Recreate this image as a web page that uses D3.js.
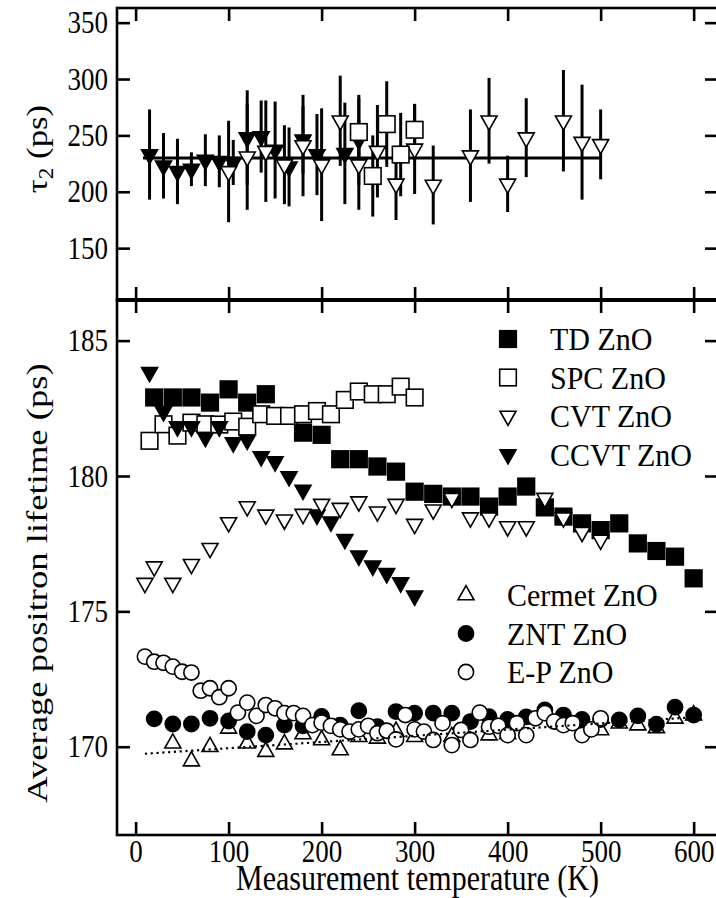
<!DOCTYPE html>
<html>
<head>
<meta charset="utf-8">
<script src="https://cdn.jsdelivr.net/npm/d3@7"></script>
<style>
  body { margin: 0; background: #fff; }
  svg { display: block; }
  svg text { font-family: "Liberation Serif", "Times New Roman", Times, serif; }
</style>
</head>
<body>
<div id="chart"></div>
<script>
// ---- data ----
// upper panel: tau2 (ps) with error bars
const ccvtTauT   = [15, 30, 45, 60, 75, 90, 105, 120, 135, 150, 165, 180, 195, 225, 240]
const ccvtTau    = [233, 223, 218, 220, 228, 227, 226, 248, 249, 237, 222, 246, 233, 234, 246]
const ccvtTauErr = [40, 29, 29, 15, 23, 23, 20, 42, 32, 43, 35, 30, 36, 45, 40]

const cvtTauT   = [100, 120, 140, 160, 180, 200, 220, 240, 260, 280, 300, 320, 360, 380, 400, 420, 460, 480, 500]
const cvtTau    = [218, 231, 236, 224, 241, 224, 263, 224, 236, 207, 238, 206, 232, 263, 207, 248, 263, 244, 242]
const cvtTauErr = [45, 47, 45, 35, 45, 50, 40, 40, 41, 32, 40, 35, 41, 38, 25, 35, 45, 51, 31]

const spcTauT   = [240, 255, 270, 285, 300]
const spcTau    = [253, 214, 260, 233, 255]
const spcTauErr = [30, 36, 38, 37, 22]

const tauMeanT = [8, 500]
const tauMean  = [230, 230]

// lower panel: average positron lifetime (ps)
const tdT = [20, 40, 60, 80, 100, 120, 140, 180, 200, 220, 240, 260, 280, 300, 320, 340, 360, 380, 400,
  420, 440, 460, 480, 500, 520, 540, 560, 580, 600]
const tdLife = [182.9, 182.9, 182.9, 182.71, 183.2, 182.71, 183.02, 181.6, 181.52, 180.62, 180.62, 180.35,
  180.16, 179.42, 179.34, 179.24, 179.24, 178.87, 179.24, 179.61, 178.84, 178.5, 178.25, 178.0, 178.25,
  177.51, 177.23, 177.02, 176.22]

const spcT = [15, 30, 45, 60, 75, 90, 105, 120, 135, 150, 165, 180, 195, 210, 225, 240, 255, 270, 285, 300]
const spcLife = [181.3, 181.91, 181.49, 181.97, 181.91, 181.9, 182.01, 181.82, 182.28, 182.22, 182.22,
  182.28, 182.4, 182.28, 182.81, 183.12, 183.02, 183.02, 183.3, 182.9]

const cvtT = [10, 20, 40, 60, 80, 100, 120, 140, 160, 180, 200, 220, 240, 260, 280, 300, 320, 340, 360,
  380, 400, 420, 440, 460, 480, 500]
const cvtLife = [176.04, 176.65, 176.04, 176.74, 177.33, 178.28, 178.87, 178.56, 178.38, 178.59, 178.96,
  178.81, 179.05, 178.68, 178.96, 178.22, 178.75, 179.18, 178.46, 178.46, 178.13, 178.13, 179.18, 178.46,
  177.92, 177.64]

const ccvtT = [15, 30, 45, 60, 75, 90, 105, 120, 135, 150, 165, 180, 195, 210, 225, 240, 255, 270, 285, 300]
const ccvtLife = [183.83, 182.38, 181.82, 181.82, 181.43, 181.82, 181.23, 181.33, 180.72, 180.53, 179.98,
  179.48, 178.56, 178.31, 177.66, 177.05, 176.68, 176.4, 176.06, 175.57]

const cermetT = [40, 60, 80, 100, 120, 140, 160, 180, 200, 220, 240, 260, 280, 300, 340, 380, 400, 460,
  500, 520, 540, 560, 580, 600]
const cermetLife = [170.13, 169.47, 170.0, 170.68, 170.13, 169.82, 170.1, 170.47, 170.25, 169.88, 170.37,
  170.31, 170.56, 170.37, 170.37, 170.43, 170.47, 170.83, 170.62, 170.87, 170.8, 170.7, 171.05, 171.17]

const zntT = [20, 40, 60, 80, 100, 120, 140, 160, 180, 200, 220, 240, 260, 280, 300, 320, 340, 360, 380,
  400, 420, 440, 460, 480, 500, 520, 540, 560, 580, 600]
const zntLife = [171.03, 170.84, 170.84, 171.05, 170.95, 170.56, 170.43, 170.8, 170.77, 171.12, 170.8,
  171.33, 170.74, 171.3, 171.24, 171.24, 171.24, 170.93, 171.11, 171.01, 171.1, 171.36, 171.17, 171.01,
  171.0, 170.99, 171.14, 170.83, 171.46, 171.17]

const epT = [10, 20, 30, 40, 50, 60, 70, 80, 90, 100, 110, 120, 130, 140, 150, 160, 170, 180, 190, 200,
  210, 220, 230, 240, 250, 260, 270, 280, 290, 300, 310, 320, 330, 340, 350, 360, 370, 380, 390, 400,
  410, 420, 430, 440, 450, 460, 470, 480, 490, 500]
const epLife = [173.33, 173.14, 173.1, 172.96, 172.77, 172.74, 172.07, 172.16, 171.83, 172.16, 171.26,
  171.63, 171.14, 171.54, 171.42, 171.24, 171.24, 171.14, 170.8, 170.89, 170.77, 170.64, 170.56, 170.64,
  170.77, 170.5, 170.59, 170.27, 171.17, 170.64, 170.56, 170.25, 170.87, 170.06, 170.62, 170.25, 171.26,
  170.74, 170.77, 170.43, 170.87, 170.43, 171.05, 171.24, 170.93, 170.8, 170.87, 170.43, 170.64, 171.05]

const cermetFitT = [10, 600]
const cermetFit  = [169.74, 171.09]

const xTicks = [0, 100, 200, 300, 400, 500, 600]
const tauTicks = [150, 200, 250, 300, 350]
const lifeTicks = [170, 175, 180, 185]

// ---- layout ----
const width = 716, height = 898
const left = 117, right = 718
const topY = 8, midY = 300, bottomY = 835
const stretch = 1.18   // the original figure's lettering is drawn taller than wide

const svg = d3.select('#chart').append('svg')
  .attr('width', width).attr('height', height)

const x = d3.scaleLinear().domain([-20, 625]).range([left, right - 1.1])
const yTau = d3.scaleLinear().domain([104, 363]).range([midY, topY])
const yLife = d3.scaleLinear().domain([166.74, 186.5]).range([bottomY, midY])

const zip = (xs, ys, es) => xs.map((t, i) => ({ t, v: ys[i], e: es ? es[i] : 0 }))

// marker shapes, centred on the centroid
function marker(g, shape, fill) {
  if (shape === 'square') {
    g.append('rect').attr('x', -8.3).attr('y', -8.3).attr('width', 16.6).attr('height', 16.6)
  } else if (shape === 'down') {
    g.append('path').attr('d', 'M-8,-4.8L8,-4.8L0,9.4Z')
  } else if (shape === 'up') {
    g.append('path').attr('d', 'M-8,4.8L8,4.8L0,-9.4Z')
  } else {
    g.append('circle').attr('r', 7.6)
  }
  g.selectAll('*').attr('fill', fill).attr('stroke', '#000').attr('stroke-width', 1.6)
}

function drawPoints(parent, data, yScale, shape, fill) {
  parent.append('g').selectAll('g')
    .data(data).enter().append('g')
    .attr('transform', d => `translate(${x(d.t)},${yScale(d.v)})`)
    .each(function () { marker(d3.select(this), shape, fill) })
}

function drawErrors(parent, data, yScale) {
  parent.append('g').selectAll('line')
    .data(data).enter().append('line')
    .attr('x1', d => x(d.t)).attr('x2', d => x(d.t))
    .attr('y1', d => yScale(d.v - d.e)).attr('y2', d => yScale(d.v + d.e))
    .attr('stroke', '#000').attr('stroke-width', 3)
}

// ---- upper panel ----
const upper = svg.append('g')
const ccvtTauData = zip(ccvtTauT, ccvtTau, ccvtTauErr)
const cvtTauData = zip(cvtTauT, cvtTau, cvtTauErr)
const spcTauData = zip(spcTauT, spcTau, spcTauErr)
drawErrors(upper, ccvtTauData, yTau)
drawErrors(upper, cvtTauData, yTau)
drawErrors(upper, spcTauData, yTau)
upper.append('path')
  .datum(zip(tauMeanT, tauMean))
  .attr('fill', 'none').attr('stroke', '#000').attr('stroke-width', 3)
  .attr('d', d3.line().x(d => x(d.t)).y(d => yTau(d.v)))
drawPoints(upper, ccvtTauData, yTau, 'down', '#000')
drawPoints(upper, cvtTauData, yTau, 'down', '#fff')
drawPoints(upper, spcTauData, yTau, 'square', '#fff')

// ---- lower panel ----
const lower = svg.append('g')
drawPoints(lower, zip(tdT, tdLife), yLife, 'square', '#000')
drawPoints(lower, zip(spcT, spcLife), yLife, 'square', '#fff')
drawPoints(lower, zip(ccvtT, ccvtLife), yLife, 'down', '#000')
drawPoints(lower, zip(cvtT, cvtLife), yLife, 'down', '#fff')
drawPoints(lower, zip(cermetT, cermetLife), yLife, 'up', '#fff')
drawPoints(lower, zip(zntT, zntLife), yLife, 'circle', '#000')
drawPoints(lower, zip(epT, epLife), yLife, 'circle', '#fff')
lower.append('path')
  .datum(zip(cermetFitT, cermetFit))
  .attr('fill', 'none').attr('stroke', '#000').attr('stroke-width', 2.2)
  .attr('stroke-dasharray', '2.2,3.6')
  .attr('d', d3.line().x(d => x(d.t)).y(d => yLife(d.v)))

// ---- axes (ticks point inward) ----
const tick = 13
function styleAxis(g, withText) {
  g.select('.domain').remove()
  g.selectAll('.tick line').attr('stroke', '#000').attr('stroke-width', 2.6)
  if (withText) {
    g.attr('font-family', null).attr('font-size', null)
    g.selectAll('.tick text').attr('font-size', 27).attr('fill', '#000')
      .attr('transform', `scale(1,${stretch})`)
  } else {
    g.selectAll('.tick text').remove()
  }
}

function panelAxes(yScale, ticks, y0, y1, bottomLabels) {
  svg.append('g').attr('transform', `translate(0,${y0})`)
    .call(d3.axisTop(x).tickValues(xTicks).tickSizeInner(-tick).tickSizeOuter(0))
    .call(g => styleAxis(g, false))
  svg.append('g').attr('transform', `translate(0,${y1})`)
    .call(d3.axisBottom(x).tickValues(xTicks).tickSizeInner(-tick).tickSizeOuter(0).tickPadding(4))
    .call(g => styleAxis(g, bottomLabels))
  svg.append('g').attr('transform', `translate(${left},0)`)
    .call(d3.axisLeft(yScale).tickValues(ticks).tickSizeInner(-tick).tickSizeOuter(0).tickPadding(9))
    .call(g => styleAxis(g, true))
  svg.append('g').attr('transform', `translate(${right},0)`)
    .call(d3.axisRight(yScale).tickValues(ticks).tickSizeInner(-tick).tickSizeOuter(0))
    .call(g => styleAxis(g, false))
}
panelAxes(yTau, tauTicks, topY, midY, false)
panelAxes(yLife, lifeTicks, midY, bottomY, true)

// frames
svg.append('rect').attr('x', left).attr('y', topY).attr('width', right - left).attr('height', midY - topY)
  .attr('fill', 'none').attr('stroke', '#000').attr('stroke-width', 2.6)
svg.append('rect').attr('x', left).attr('y', midY).attr('width', right - left).attr('height', bottomY - midY)
  .attr('fill', 'none').attr('stroke', '#000').attr('stroke-width', 2.6)
svg.append('line').attr('x1', left).attr('x2', right).attr('y1', midY).attr('y2', midY)
  .attr('stroke', '#000').attr('stroke-width', 4)

// ---- legends ----
const legendTop = [
  { name: 'TD ZnO', shape: 'square', fill: '#000' },
  { name: 'SPC ZnO', shape: 'square', fill: '#fff' },
  { name: 'CVT ZnO', shape: 'down', fill: '#fff' },
  { name: 'CCVT ZnO', shape: 'down', fill: '#000' }
]
const legendBottom = [
  { name: 'Cermet ZnO', shape: 'up', fill: '#fff' },
  { name: 'ZNT ZnO', shape: 'circle', fill: '#000' },
  { name: 'E-P ZnO', shape: 'circle', fill: '#fff' }
]
function legend(items, mx, tx, y0, step) {
  const g = svg.append('g')
  items.forEach((it, i) => {
    const row = g.append('g').attr('transform', `translate(0,${y0 + i * step})`)
    marker(row.append('g').attr('transform', `translate(${mx},0)`), it.shape, it.fill)
    row.append('text').attr('transform', `translate(${tx},11) scale(1,1.08)`)
      .attr('font-size', 30).text(it.name)
  })
}
legend(legendTop, 508, 550, 339, 38.5)
legend(legendBottom, 466, 507, 595, 38.5)

// ---- axis titles ----
svg.append('text').attr('transform', `translate(${(left + right) / 2},890) scale(1,${stretch})`)
  .attr('text-anchor', 'middle').attr('font-size', 30).text('Measurement temperature (K)')
svg.append('text').attr('transform', `translate(47,583) rotate(-90) scale(1.22,1)`)
  .attr('text-anchor', 'middle').attr('font-size', 30).text('Average positron lifetime (ps)')
const tauLabel = svg.append('text').attr('transform', `translate(47,149) rotate(-90) scale(1.16,1)`)
  .attr('text-anchor', 'middle').attr('font-size', 30)
tauLabel.append('tspan').text('τ')
tauLabel.append('tspan').attr('font-size', 20).attr('dy', 6).text('2')
tauLabel.append('tspan').attr('dy', -6).text(' (ps)')
</script>
</body>
</html>
